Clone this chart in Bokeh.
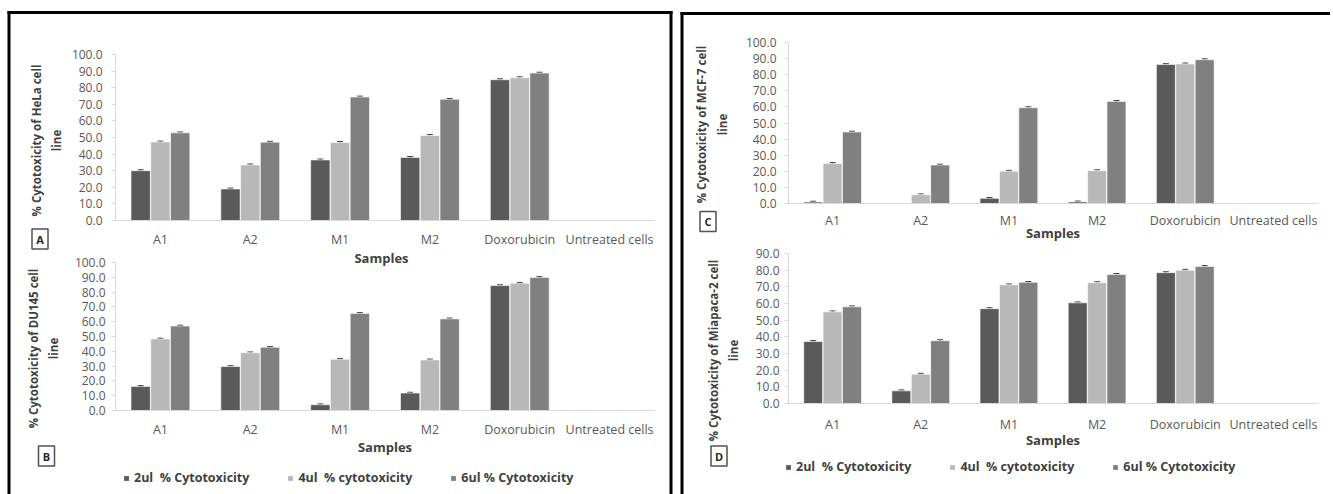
import numpy as np
from bokeh.plotting import figure
from bokeh.models import (ColumnDataSource, FactorRange, Range1d, FixedTicker, Spacer, GridBox,
                          NumeralTickFormatter, Legend, LegendItem, Whisker, TeeHead)
from bokeh.transform import dodge
from bokeh.layouts import column, row
from bokeh.embed import file_html
from bokeh.resources import INLINE
from bokeh.core.properties import value

# ---------------- data ----------------
categories = ["A1", "A2", "M1", "M2", "Doxorubicin", "Untreated cells"]
series_labels = ["2ul  % Cytotoxicity", "4ul  % cytotoxicity", "6ul % Cytotoxicity"]

hela_2ul = [30.0, 19.0, 36.5, 38.0, 84.8, 0.0]
hela_4ul = [47.3, 33.5, 47.0, 51.2, 86.0, 0.0]
hela_6ul = [52.8, 47.2, 74.4, 73.0, 88.8, 0.0]

du145_2ul = [16.3, 29.7, 3.9, 11.8, 84.4, 0.0]
du145_4ul = [48.3, 39.0, 34.6, 34.2, 86.0, 0.0]
du145_6ul = [57.1, 42.7, 65.6, 61.9, 89.9, 0.0]

mcf7_2ul = [0.9, 0.0, 3.2, 1.0, 86.3, 0.0]
mcf7_4ul = [24.9, 5.4, 20.1, 20.4, 86.7, 0.0]
mcf7_6ul = [44.4, 23.9, 59.5, 63.4, 89.3, 0.0]

miapaca_2ul = [37.2, 7.6, 56.9, 60.4, 78.5, 0.0]
miapaca_4ul = [55.0, 17.6, 71.2, 72.5, 80.0, 0.0]
miapaca_6ul = [58.0, 37.7, 72.7, 77.4, 82.2, 0.0]

error_half = [0.5, 0.5, 0.5, 0.5, 0.5, 0.0]

hela_ticks = [0, 10, 20, 30, 40, 50, 60, 70, 80, 90, 100]
du145_ticks = [0, 10, 20, 30, 40, 50, 60, 70, 80, 90, 100]
mcf7_ticks = [0, 10, 20, 30, 40, 50, 60, 70, 80, 90, 100]
miapaca_ticks = [0, 10, 20, 30, 40, 50, 60, 70, 80, 90]

panel_letters = ["A", "B", "C", "D"]
y_titles = ["% Cytotoxicity of HeLa cell\nline",
            "% Cytotoxicity of DU145 cell\nline",
            "% Cytotoxicity of MCF-7 cell\nline",
            "% Cytotoxicity of Miapaca-2 cell\nline"]
x_title = "Samples"

# ---------------- style ----------------
COLORS = ["#5a5a5a", "#b8b8b8", "#808080"]
FONT = "Open Sans"
OFFSETS = [-0.22, 0.0, 0.22]
BAR_W = 0.215
PAGE_W, PAGE_H = 1330, 494


def panel(vals, ticks, ymax, width, height, borders, ytick_standoff,
          xtick_standoff, xlab_standoff, show_xlabel=True):
    left, right, top, bottom = borders
    p = figure(x_range=FactorRange(*categories), y_range=Range1d(0, ymax),
               width=width, height=height, output_backend="svg",
               toolbar_location=None, min_border_left=left, min_border_right=right,
               min_border_top=top, min_border_bottom=bottom)
    p.outline_line_color = None
    p.xgrid.grid_line_color = None
    p.ygrid.grid_line_color = None
    p.background_fill_color = None
    p.border_fill_color = None

    data = {"cat": categories}
    for i, v in enumerate(vals):
        v = np.array(v, dtype=float)
        e = np.array(error_half, dtype=float)
        data[f"s{i}"] = v
        data[f"u{i}"] = np.where(v > 0, v + e, np.nan)
        data[f"l{i}"] = np.where(v > 0, v - e, np.nan)
    src = ColumnDataSource(data)

    for i in range(3):
        p.vbar(x=dodge("cat", OFFSETS[i], range=p.x_range), top=f"s{i}", width=BAR_W,
               source=src, fill_color=COLORS[i], line_color="white", line_width=0.6)
        w = Whisker(source=src, base=dodge("cat", OFFSETS[i], range=p.x_range),
                    upper=f"u{i}", lower=f"l{i}", line_color="#2a2a2a", line_width=1,
                    upper_head=TeeHead(size=6, line_color="#2a2a2a", line_width=1),
                    lower_head=TeeHead(size=6, line_color="#2a2a2a", line_width=1))
        p.add_layout(w)

    ya = p.yaxis[0]
    ya.ticker = FixedTicker(ticks=ticks)
    ya.formatter = NumeralTickFormatter(format="0.0")
    ya.axis_line_color = "#d9d9d9"
    ya.major_tick_line_color = "#d9d9d9"
    ya.major_tick_out = 4
    ya.major_tick_in = 0
    ya.minor_tick_line_color = None
    ya.major_label_text_font = FONT
    ya.major_label_text_font_size = "12px"
    ya.major_label_text_color = "#595959"
    ya.major_label_standoff = ytick_standoff

    xa = p.xaxis[0]
    xa.axis_line_color = "#d9d9d9"
    xa.major_tick_line_color = None
    xa.major_tick_out = 0
    xa.major_tick_in = 0
    xa.minor_tick_line_color = None
    xa.major_label_text_font = FONT
    xa.major_label_text_font_size = "12.5px"
    xa.major_label_text_color = "#595959"
    xa.major_label_standoff = xtick_standoff
    if show_xlabel:
        xa.axis_label = x_title
        xa.axis_label_text_font = FONT
        xa.axis_label_text_font_size = "13px"
        xa.axis_label_text_font_style = "bold"
        xa.axis_label_text_color = "#404040"
        xa.axis_label_standoff = xlab_standoff
    return p


fA = panel([hela_2ul, hela_4ul, hela_6ul], hela_ticks, 100, 658, 236,
           (98, 15, 40, 29), 9, 10, 0, show_xlabel=False)
fB = panel([du145_2ul, du145_4ul, du145_6ul], du145_ticks, 100, 658, 236,
           (104, 15, 12, 76), 6, 10, -3)
fC = panel([mcf7_2ul, mcf7_4ul, mcf7_6ul], mcf7_ticks, 100, 642, 230,
           (105, 8, 28, 41), 8, 8, -8)
fD = panel([miapaca_2ul, miapaca_4ul, miapaca_6ul], miapaca_ticks, 90, 642, 242,
           (102, 8, 9, 83), 5, 12, -5)

main = row(
    Spacer(width=11, height=10),
    column(Spacer(width=658, height=14), fA, fB),
    Spacer(width=14, height=10),
    column(Spacer(width=642, height=14), fC, fD),
)

# ---------- overlay in page pixels (y measured upward from the page bottom) ----------
ov = figure(width=PAGE_W, height=PAGE_H, x_range=Range1d(0, PAGE_W), y_range=Range1d(0, PAGE_H),
            output_backend="svg", toolbar_location=None, min_border=0,
            x_axis_type=None, y_axis_type=None)
ov.outline_line_color = None
ov.background_fill_color = None
ov.border_fill_color = None
ov.grid.visible = False


def Y(page_y):
    return PAGE_H - page_y


# box outlines
ov.segment(x0=[8.5, 7, 670.5, 681.5, 680], y0=[Y(10.5), Y(12), Y(10.5), Y(11.5), Y(13)],
           x1=[8.5, 672, 670.5, 681.5, PAGE_W], y1=[0, Y(12), 0, 0, Y(13)],
           line_color="black", line_width=3)

# panel letter boxes
lx = [39.5, 46, 707.5, 718.5]
ly = [Y(238.5), Y(455.5), Y(221), Y(455.5)]
ov.rect(x=lx, y=ly, width=16, height=20, fill_color="white",
        line_color="#505050", line_width=1.5)
ov.text(x=lx, y=ly, text=panel_letters, text_align="center", text_baseline="middle",
        text_font=value(FONT), text_font_size="11px", text_font_style="bold",
        text_color="#262626")

# y-axis titles (two lines, rotated)
ov.text(x=[46, 43, 711.5, 723], y=[Y(140), Y(348), Y(124), Y(350)], text=y_titles,
        angle=np.pi / 2, text_align="center", text_baseline="middle",
        text_font=value(FONT), text_font_size="11.5px", text_font_style="bold",
        text_color="#404040", text_line_height=1.35)

# x-axis title of panel A (sits between panel A and panel B)
ov.text(x=[381], y=[Y(257)], text=[x_title], text_align="center", text_baseline="middle",
        text_font=value(FONT), text_font_size="13px", text_font_style="bold",
        text_color="#404040")

# legends
for loc in [(123, 8), (785, 19)]:
    rs = [ov.vbar(x=[-100], top=[-50], bottom=[-60], width=5, fill_color=COLORS[i],
                  line_color=None) for i in range(3)]
    items = [LegendItem(label=series_labels[i], renderers=[rs[i]]) for i in range(3)]
    leg = Legend(items=items, location=loc, orientation="horizontal",
                 glyph_width=6, glyph_height=6, label_standoff=5, spacing=38,
                 padding=0, margin=0, border_line_color=None,
                 background_fill_alpha=0, label_text_font=FONT,
                 label_text_font_size="12.5px", label_text_font_style="bold",
                 label_text_color="#404040", label_height=14)
    ov.add_layout(leg)

layout = GridBox(children=[(main, 0, 0), (ov, 0, 0)])

with open("out.html", "w") as f:
    f.write(file_html(layout, INLINE))
